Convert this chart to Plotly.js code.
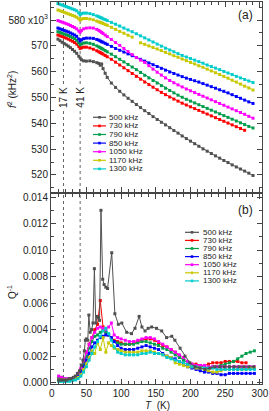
<!DOCTYPE html>
<html><head><meta charset="utf-8">
<script src="https://cdn.plot.ly/plotly-3.0.1.min.js"></script>
<style>html,body{margin:0;padding:0;background:#fff;}#chart{width:269px;height:411px;}</style>
</head><body><div id="chart"></div>
<script>
const seriesLabels = ['500 kHz','730 kHz','790 kHz','850 kHz','1050 kHz','1170 kHz','1300 kHz'];
const seriesColors = ['#505050','#ff0000','#009e4a','#0000ff','#ff00ff','#c8c800','#00cccc'];

// Top panel: f^2 (x10^3 kHz^2) vs T (K)
const T_top = [9,12,15,18,21,24,27,30,33,36,39,41,43,46,50,55,60,65,68,70,72,74,77,80,86,92,98,104,110,116,122,128,134,140,146,152,158,164,170,176,182,188,194,200,206,212,218,224,230,236,242,248,254,260,266,272,278,284,290];
const f2_500 = [572.6,572.0,571.4,570.9,570.4,569.9,569.3,568.6,567.9,567.1,566.0,565.3,564.6,564.2,564.1,564.2,563.9,563.5,563.2,562.5,563.0,561.2,559.4,557.8,555.6,553.9,552.4,551.0,549.7,548.5,547.3,546.1,544.9,543.8,542.6,541.5,540.4,539.4,538.3,537.2,536.2,535.1,534.1,533.1,532.1,531.1,530.1,529.2,528.3,527.4,526.5,525.6,524.8,523.9,523.1,522.3,521.5,520.7,519.8];
const f2_730 = [574.2,573.9,573.6,573.3,573.0,572.6,572.2,571.8,571.3,570.7,569.8,569.0,569.3,569.5,569.5,569.2,568.7,568.1,567.7,567.4,567.1,566.8,566.3,565.8,564.8,563.7,562.6,561.5,560.4,559.3,558.2,557.1,556.0,555.0,554.0,553.0,552.0,551.1,550.2,549.4,548.6,547.8,547.1,546.4,545.7,545.0,544.3,543.6,542.9,542.2,541.5,540.8,540.1,539.4,538.7,538.0,537.3,null,null];
const f2_790 = [575.5,575.2,574.9,574.6,574.3,574.0,573.6,573.2,572.8,572.2,571.2,570.4,570.8,571.1,571.2,571.0,570.6,570.0,569.6,569.3,569.0,568.7,568.2,567.7,566.8,565.8,564.8,563.8,562.8,561.8,560.8,559.7,558.6,557.6,556.6,555.6,554.6,553.6,552.7,551.8,550.9,550.1,549.3,548.6,547.9,547.2,546.5,545.8,545.1,544.4,543.7,543.0,542.3,541.6,540.9,540.2,539.5,538.8,538.2];
const f2_850 = [576.9,576.6,576.3,576.0,575.7,575.4,575.0,574.6,574.2,573.7,572.7,571.9,572.4,572.8,573.0,573.0,572.9,572.5,572.2,571.9,571.6,571.4,571.0,570.6,569.8,569.0,568.3,567.6,566.9,566.2,565.5,564.8,564.1,563.4,562.7,562.0,561.3,560.6,559.9,559.3,558.7,558.1,557.5,557.0,556.5,556.0,555.4,554.8,554.2,553.6,553.0,552.4,551.8,551.1,550.4,549.7,549.0,548.3,547.7];
const f2_1050 = [579.8,579.5,579.2,578.9,578.6,578.3,577.9,577.5,577.1,576.6,575.8,575.3,576.0,576.6,576.9,577.0,576.9,576.4,576.0,575.6,575.2,574.8,574.2,573.6,572.5,571.3,570.2,569.0,567.8,566.6,565.5,564.5,563.6,562.3,561.0,559.8,558.7,557.6,556.6,555.7,554.9,554.1,553.3,552.6,551.9,551.2,550.5,549.8,549.1,548.4,547.7,547.0,546.3,545.6,544.9,544.2,543.5,542.7,542.0];
const f2_1170 = [583.9,583.6,583.3,583.0,582.7,582.4,582.1,581.8,581.5,581.1,580.5,580.0,580.4,580.6,580.6,580.4,580.1,579.6,579.3,579.1,578.9,578.7,578.3,578.0,577.2,576.4,575.6,574.9,574.1,573.4,null,571.2,570.6,570.0,569.4,568.8,568.2,567.5,566.9,566.2,565.6,564.9,564.3,563.6,563.0,562.3,561.7,561.0,560.3,559.6,558.9,558.2,557.5,556.7,556.0,555.2,554.4,553.7,552.9];
const f2_1300 = [586.4,586.1,585.8,585.5,585.2,584.9,584.6,584.3,584.0,583.6,582.8,582.1,582.5,582.7,582.7,582.5,582.1,581.6,581.3,581.0,580.8,580.5,580.2,579.8,579.1,578.4,577.7,576.9,576.2,575.5,574.7,573.9,573.1,572.3,571.5,570.7,569.9,569.1,568.4,567.7,567.0,566.3,565.7,565.1,564.5,563.9,563.3,562.6,562.0,561.4,560.8,560.1,559.5,558.9,558.2,557.6,557.0,556.4,555.8];

// Bottom panel: Q^-1 vs T (K)
const T_q500 = [10,13,16,19,22,25,28,31,34,37,40,43,45,47,48.5,50,52,53.5,55.5,57.5,59.5,61.5,63.5,65.5,67.5,69,71,73.5,75.5,78,80.5,86.5,91,96,101,108,115,120,126,130,134.5,139,144,151,158.5,165.5,173,177.5,185,192,199,206.5,213.5,221,228,235,242,249,256,263,270,277,284,291];
const q_500 = [.0002,.0002,.0002,.0002,.0002,.0003,.0003,.0004,.0005,.0007,.0009,.0013,.0017,.0024,.0032,.0033,.0032,.0051,.0038,.0040,.0045,.0086,.0045,.0050,.0049,.0047,.0130,.0078,.0074,.0072,.0071,.0098,.0052,.0044,.0045,.0038,.0037,.0041,.0050,.0042,.0039,.0041,.0042,.0041,.0039,.0034,.0035,.0032,.0026,.0020,.0015,.0012,.0011,.0010,.0011,.0012,.0012,.0012,.0012,.0012,.0012,.0012,.0012,.0012];
const T_bot = [10,14,18,22,26,30,34,38,42,46,50,54,58,62,66,70,74,78,82,86,90,95,100,106,112,118,124,130,136,142,148,154,160,166,172,178,184,190,196,202,208,214,220,226,232,238,244,250,256,262,268,274,280,286,292];
const q_730 = [.0003,.0003,.0002,.0002,.0002,.0003,.0004,.0006,.0010,.0016,.0023,.0029,.0034,.0040,.0044,.0062,.0042,.0038,.0036,.0034,.0032,.0031,.0030,.0029,.0029,.0030,.0031,.0032,.0033,.0033,.0032,.0030,.0028,.0027,.0025,.0023,.0020,.0017,.0015,.0014,.0014,.0013,.0013,.0014,.0015,.0015,.0015,.0016,.0016,.0016,.0016,.0015,.0015,null,null];
const q_790 = [.0004,.0004,.0003,.0002,.0002,.0003,.0004,.0006,.0009,.0014,.0020,.0026,.0031,.0035,.0036,.0038,.0040,.0038,.0036,.0033,.0031,.0030,.0029,.0029,.0029,.0029,.0030,.0031,.0031,.0030,.0029,.0028,.0026,.0025,.0023,.0021,.0019,.0017,.0015,.0013,.0012,.0012,.0012,.0011,.0012,.0012,.0013,.0014,.0015,.0016,.0018,.0020,.0022,.0023,.0024];
const q_850 = [.0002,.0002,.0002,.0002,.0002,.0002,.0003,.0005,.0008,.0012,.0017,.0022,.0027,.0030,.0032,.0034,.0035,.0036,.0036,.0034,.0031,.0028,.0026,.0025,.0025,.0025,.0026,.0027,.0028,.0027,.0026,.0025,.0022,.0020,.0019,.0018,.0016,.0014,.0012,.0011,.0010,.0009,.0008,.0008,.0007,.0007,.0006,.0006,.0007,.0007,.0007,.0007,.0007,.0007,.0007];
const q_1050 = [.0005,.0004,.0003,.0003,.0003,.0003,.0004,.0007,.0011,.0017,.0023,.0029,.0034,.0038,.0041,.0042,.0041,.0040,.0042,.0045,.0036,.0034,.0033,.0032,.0031,.0031,.0032,.0033,.0034,.0034,.0033,.0031,.0029,.0027,.0025,.0023,.0021,.0019,.0016,.0014,.0013,.0013,.0013,.0012,.0012,.0012,.0012,.0012,.0012,.0012,.0012,.0012,.0012,.0012,.0012];
const q_1170 = [.0002,.0002,.0002,.0002,.0002,.0002,.0003,.0004,.0006,.0010,.0014,.0019,.0024,.0022,.0030,.0025,.0034,.0023,.0030,.0028,.0026,.0025,.0024,.0023,.0023,.0023,.0023,.0024,.0024,.0024,.0023,.0022,.0021,.0020,.0019,.0015,.0014,.0013,.0012,.0012,.0011,.0011,.0010,.0009,.0008,.0008,.0009,.0010,.0010,.0010,.0010,.0010,.0010,.0011,.0011];
const q_1300 = [.0001,.0001,.0001,.0001,.0001,.0002,.0002,.0003,.0005,.0008,.0012,.0017,.0022,.0027,.0031,.0035,.0039,.0041,.0037,.0032,.0027,.0023,.0022,.0021,.0021,.0021,.0021,.0022,.0022,.0023,.0022,.0022,.0021,.0019,.0018,.0017,.0016,.0015,.0014,.0012,.0012,.0011,.0011,.0011,.0011,.0010,.0010,.0010,.0010,.0010,.0010,.0010,.0010,.0010,.0010];

const markerLines = [17, 41];
const xTicks = [0,50,100,150,200,250,300];
const f2Ticks = [520,530,540,550,560,570,580];
const f2TickText = ['520','530','540','550','560','570','580 x10<sup>3</sup>'];

const FONT = 'Liberation Sans, Arial, sans-serif';
const AX = '#444';
// pixel -> paper helpers (plot area: x 51..262, y 2..384)
const L = 51, R = 262, TOP = 2, BOT = 384;
const X = px => (px - L) / (R - L);
const Y = py => (BOT - py) / (BOT - TOP);

const topY = [f2_500, f2_730, f2_790, f2_850, f2_1050, f2_1170, f2_1300];
const botY = [q_730, q_790, q_850, q_1050, q_1170, q_1300];

function tr(xs, ys, i, xa, ya) {
  return {x: xs, y: ys, xaxis: xa, yaxis: ya, mode: 'lines+markers', name: seriesLabels[i],
    line: {color: seriesColors[i], width: 1}, marker: {color: seriesColors[i], size: 3, symbol: 'square'},
    showlegend: false, hoverinfo: 'skip'};
}
const traces = [];
topY.forEach((ys, i) => traces.push(tr(T_top, ys, i, 'x2', 'y2')));
botY.forEach((ys, j) => traces.push(tr(T_bot, ys, j + 1, 'x', 'y')));
traces.push(tr(T_q500, q_500, 0, 'x', 'y'));

const shapes = [];
const annotations = [];
function ann(o) {
  annotations.push(Object.assign({showarrow: false, xanchor: 'center', yanchor: 'middle',
    font: {family: FONT, size: 10, color: '#222'}}, o));
}
markerLines.forEach(t => {
  shapes.push({type: 'line', xref: 'x', yref: 'paper', x0: t, x1: t, y0: 0, y1: 1,
    line: {color: '#666', width: 1, dash: 'dot'}, layer: 'below'});
  ann({xref: 'x2', yref: 'y2', x: t, y: 550, text: t + ' K', textangle: -90, bgcolor: '#fff', borderpad: 0});
});

function addLegend(x0, x1, xt, y0, dy, fs) {
  seriesLabels.forEach((lab, i) => {
    const py = y0 + dy * i;
    shapes.push({type: 'line', xref: 'paper', yref: 'paper', x0: X(x0), x1: X(x1), y0: Y(py), y1: Y(py),
      line: {color: seriesColors[i], width: 1.2}});
    const mx = (x0 + x1) / 2;
    shapes.push({type: 'rect', xref: 'paper', yref: 'paper', x0: X(mx - 1.3), x1: X(mx + 1.3), y0: Y(py + 1.3), y1: Y(py - 1.3),
      fillcolor: seriesColors[i], line: {width: 0}});
    ann({xref: 'paper', yref: 'paper', x: X(xt), y: Y(py), xanchor: 'left', text: lab,
      font: {family: FONT, size: fs, color: '#222'}});
  });
}
addLegend(93, 106, 107, 117.3, 8.6, 8);
addLegend(185, 199, 201, 232.3, 8.1, 8);

ann({xref: 'paper', yref: 'paper', x: X(245), y: Y(15), text: '(a)', font: {family: FONT, size: 12, color: '#222'}});
ann({xref: 'paper', yref: 'paper', x: X(245), y: Y(210), text: '(b)', font: {family: FONT, size: 12, color: '#222'}});
ann({xref: 'paper', yref: 'paper', x: X(12), y: Y(90), text: '<i>f</i><sup>2</sup> (kHz<sup>2</sup>)', textangle: -90});
ann({xref: 'paper', yref: 'paper', x: X(12), y: Y(292), text: 'Q<sup>-1</sup>', textangle: -90});
ann({xref: 'paper', yref: 'paper', x: X(157), y: Y(405), text: '<i>T</i>  (K)'});

const axBase = {showline: true, linecolor: AX, linewidth: 1, mirror: 'allticks', ticks: 'inside',
  ticklen: 5, tickcolor: AX, showgrid: false, zeroline: false,
  tickfont: {family: FONT, size: 10, color: '#222'}};

const layout = {
  width: 269, height: 411,
  margin: {l: L, r: 269 - R, t: TOP, b: 411 - BOT},
  paper_bgcolor: '#fff', plot_bgcolor: '#fff',
  showlegend: false,
  font: {family: FONT, size: 10, color: '#222'},
  xaxis: Object.assign({}, axBase, {anchor: 'y', domain: [0, 1], range: [-1, 303], tickvals: xTicks,
    minor: {dtick: 10, ticklen: 3, ticks: 'inside', tickcolor: AX}}),
  yaxis: Object.assign({}, axBase, {anchor: 'x', domain: [0, Y(194)], range: [-0.0001, 0.01423],
    tickvals: [0,0.002,0.004,0.006,0.008,0.010,0.012,0.014], tickformat: '.3f',
    minor: {dtick: 0.001, ticklen: 3, ticks: 'inside', tickcolor: AX}}),
  xaxis2: Object.assign({}, axBase, {anchor: 'y2', domain: [0, 1], range: [-1, 303], tickvals: xTicks,
    showticklabels: false, minor: {dtick: 10, ticklen: 3, ticks: 'inside', tickcolor: AX}}),
  yaxis2: Object.assign({}, axBase, {anchor: 'x2', domain: [Y(192), 1], range: [513.4, 587.0],
    tickvals: f2Ticks, ticktext: f2TickText,
    minor: {dtick: 5, ticklen: 3, ticks: 'inside', tickcolor: AX}}),
  shapes: shapes,
  annotations: annotations
};

Plotly.newPlot('chart', traces, layout, {staticPlot: true, displayModeBar: false});
</script>
</body></html>
